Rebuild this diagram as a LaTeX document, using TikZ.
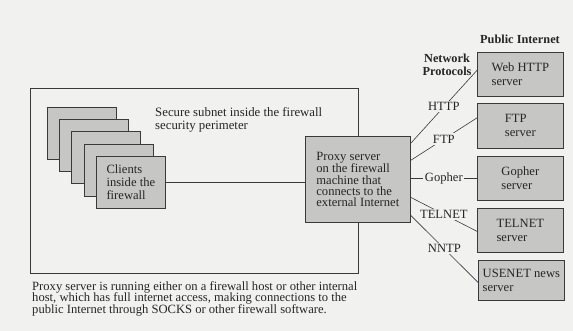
\documentclass[tikz,border=0pt]{standalone}
\usepackage{fontspec}
\setmainfont{Liberation Serif}
\definecolor{bg}{HTML}{F1F1EF}
\definecolor{boxfill}{HTML}{C6C6C4}
\definecolor{ink}{HTML}{3A3A3A}
\tikzset{
  every node/.style={font=\fontsize{12.6}{13.3}\selectfont, text=black!85},
  box/.style={draw=ink, fill=boxfill, line width=0.7pt, anchor=north west, inner sep=0pt, align=left},
  client/.style={box, minimum width=69pt, minimum height=52pt},
  server/.style={box, minimum width=86pt, minimum height=44pt, font=\fontsize{12.6}{14}\selectfont},
  conn/.style={draw=ink, line width=0.6pt},
  lbl/.style={fill=bg, inner sep=1.5pt},
}
\begin{document}
\begin{tikzpicture}[x=1pt,y=-1pt]
\fill[bg] (0,0) rectangle (573,331);
\useasboundingbox (0,0) rectangle (573,331);
% subnet
\node[draw=ink, line width=0.7pt, anchor=north west, minimum width=328pt, minimum height=185pt, inner sep=0pt] (subnet) at (30,88) {};
\node[anchor=north west, align=left, inner sep=0pt, font=\fontsize{12.8}{13.3}\selectfont] (subtxt) at (155,107) {Secure subnet inside the firewall\\security perimeter};
% clients
\node[client] (c1) at (46.8,106.8) {};
\node[client] (c2) at (59.1,119.1) {};
\node[client] (c3) at (71.4,131.4) {};
\node[client] (c4) at (83.7,143.7) {};
\node[client] (c5) at (96,156) {Clients\\inside the\\firewall};
% proxy
\node[box, minimum width=105pt, minimum height=86pt, font=\fontsize{12.6}{11.4}\selectfont] (proxy) at (305,136) {Proxy server\\on the firewall\\machine that\\connects to the\\external Internet};
\draw[conn] (c5.east) -- (c5.east -| proxy.west);
% servers
\node[server] (web) at (477,52) {Web HTTP\\server};
\node[server, minimum height=45pt] (ftp) at (477,103) {FTP\\server};
\node[server] (gopher) at (477,156) {Gopher\\server};
\node[server] (telnet) at (477,208) {TELNET\\server};
\node[server, minimum height=40pt] (usenet) at (478,260) {USENET news\\server};
% headings
\node[font=\fontsize{12.3}{12.5}\selectfont\bfseries, align=center] (np) at (447,65) {Network\\Protocols};
\node[font=\fontsize{12.3}{12.5}\selectfont\bfseries] (pi) at (520,39) {Public Internet};
% connectors
\draw[conn] ([yshift=36pt]proxy.east) -- node[lbl, pos=0.5] {HTTP} ([yshift=4pt]web.west);
\draw[conn] ([yshift=19pt]proxy.east) -- node[lbl, pos=0.5] {FTP} ([yshift=8pt]ftp.west);
\draw[conn] ([yshift=1pt]proxy.east) -- node[lbl, pos=0.5] {Gopher} ([yshift=0pt]gopher.west);
\draw[conn] ([yshift=-18pt]proxy.east) -- node[lbl, pos=0.5] {TELNET} ([yshift=-1pt]telnet.west);
\draw[conn] ([yshift=-36pt]proxy.east) -- node[lbl, pos=0.5] {NNTP} ([yshift=-2pt]usenet.west);
% caption
\node[anchor=north west, align=left, inner sep=0pt, font=\fontsize{12.6}{11.8}\selectfont] (cap) at (32,281) {Proxy server is running either on a firewall host or other internal\\host, which has full internet access, making connections to the\\public Internet through SOCKS or other firewall software.};
\end{tikzpicture}
\end{document}
